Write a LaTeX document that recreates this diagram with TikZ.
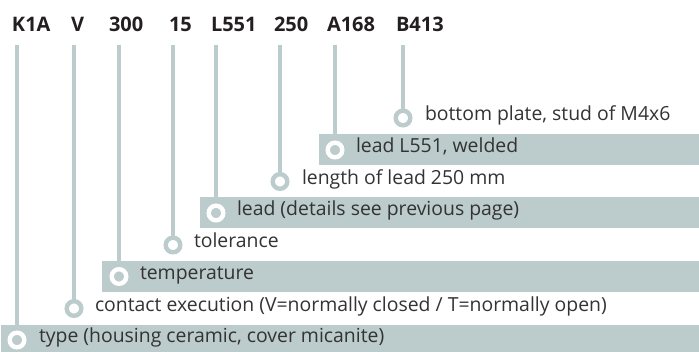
\documentclass[tikz,border=0pt]{standalone}
\usepackage{fontspec}
\setmainfont{Open Sans}
\begin{document}
\begin{tikzpicture}[x=1pt,y=1pt,
  every node/.style={inner sep=0pt,outer sep=0pt},
  hdr/.style={anchor=base west,font=\fontsize{20}{23}\selectfont\bfseries,text=hdrcol},
  lbl/.style={anchor=mid west,font=\fontsize{19.4}{22}\selectfont,text=txtcol},
  band/.style={fill=bandcol,draw=none},
  ringon/.style={circle,minimum size=14.6pt,draw=white,line width=4.4pt,fill=bandcol},
  ringoff/.style={circle,minimum size=14.6pt,draw=bandcol,line width=4.4pt,fill=white},
  conn/.style={draw=bandcol,line width=4pt}]
\definecolor{bandcol}{HTML}{BCCBCB}
\definecolor{txtcol}{HTML}{333333}
\definecolor{hdrcol}{HTML}{231F20}
\useasboundingbox (0,0) rectangle (699,351);
% header tokens
\node[hdr] (hK) at (12,319) {K1A};
\node[hdr] (hV) at (71,319) {V};
\node[hdr] (h300) at (109,319) {300};
\node[hdr] (h15) at (169,319) {15};
\node[hdr] (hL) at (211,319) {L551};
\node[hdr] (h250) at (274,319) {250};
\node[hdr] (hA) at (327,319) {A168};
\node[hdr] (hB) at (396,319) {B413};
% line tops
\coordinate (tK) at (17,306);
\coordinate (tV) at (74,306);
\coordinate (t300) at (119,306);
\coordinate (t15) at (173,306);
\coordinate (tL) at (216,306);
\coordinate (t250) at (280,306);
\coordinate (tA) at (335,306);
\coordinate (tB) at (403,306);
% bands
\fill[band] (319,185.5) rectangle (699,216.5);
\fill[band] (200,122.5) rectangle (699,153.5);
\fill[band] (102,59) rectangle (699,90);
\fill[band] (1,-4) rectangle (699,26);
% connectors
\draw[conn] (tB) -- (403,233);
\draw[conn] (tA) -- (335,201);
\draw[conn] (t250) -- (280,169.5);
\draw[conn] (tL) -- (216,138);
\draw[conn] (t15) -- (173,106);
\draw[conn] (t300) -- (119,74.5);
\draw[conn] (tV) -- (74,42.5);
\draw[conn] (tK) -- (17,11);
% circles
\node[ringoff] (cB) at (403,233) {};
\node[ringon] (cA) at (335,201) {};
\node[ringoff] (c250) at (280,169.5) {};
\node[ringon] (cL) at (216,138) {};
\node[ringoff] (c15) at (173,106) {};
\node[ringon] (c300) at (119,74.5) {};
\node[ringoff] (cV) at (74,42.5) {};
\node[ringon] (cK) at (17,11) {};
% labels
\node[lbl] (lB) at (425,233) {bottom plate, stud of M4x6};
\node[lbl] (lA) at (356,201) {lead L551, welded};
\node[lbl] (l250) at (302,169.5) {length of lead 250 mm};
\node[lbl] (lL) at (237,138) {lead (details see previous page)};
\node[lbl] (l15) at (194,106) {tolerance};
\node[lbl] (l300) at (140,74.5) {temperature};
\node[lbl] (lV) at (95,42.5) {contact execution (V=normally closed / T=normally open)};
\node[lbl] (lK) at (39,11) {type (housing ceramic, cover micanite)};
\end{tikzpicture}
\end{document}
